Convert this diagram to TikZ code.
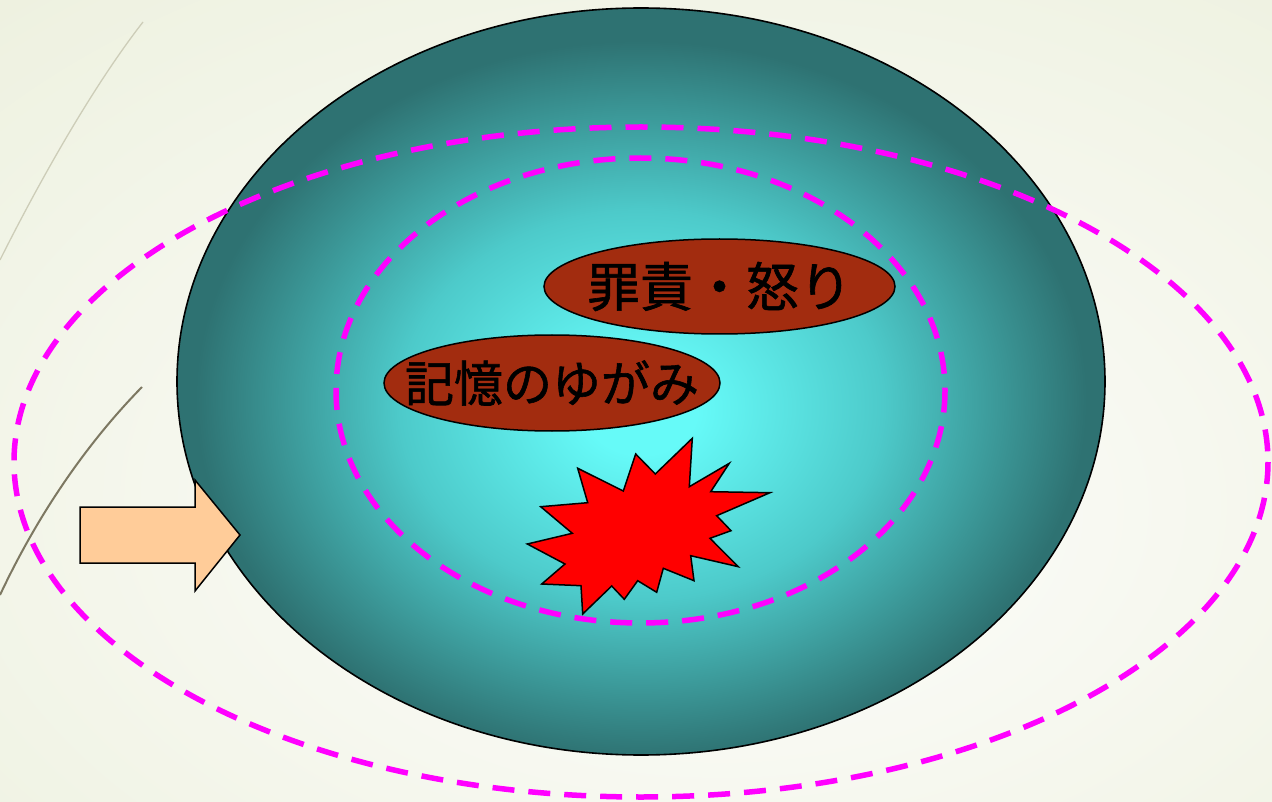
\documentclass[tikz,border=0pt]{standalone}
\usepackage{fontspec}
\newfontfamily\cjk[FakeBold=1.2]{Noto Sans CJK JP}
\usetikzlibrary{shapes.geometric}
\definecolor{bgin}{HTML}{F9FAF4}
\definecolor{bgout}{HTML}{E6EBD2}
\definecolor{cyanc}{HTML}{66FAF8}
\definecolor{midc}{HTML}{4DCACA}
\definecolor{tealc}{HTML}{2E7272}
\definecolor{brownc}{HTML}{A22C0F}
\definecolor{magc}{HTML}{FF00FF}
\definecolor{arrowc}{HTML}{FFCC99}
\definecolor{lightline}{HTML}{CDCDB8}
\definecolor{darkline}{HTML}{7D7862}
\pgfdeclareradialshading{eyeshade}{\pgfpoint{0bp}{-2bp}}{color(0bp)=(cyanc); color(3bp)=(cyanc); color(13bp)=(midc); color(24bp)=(tealc); color(60bp)=(tealc)}
\pgfdeclareradialshading{bgshade}{\pgfpoint{4bp}{-8bp}}{color(0bp)=(bgin); color(12bp)=(bgin); color(60bp)=(bgout); color(100bp)=(bgout)}
\tikzset{
  bubble/.style={ellipse, draw=black, line width=1.5pt, fill=brownc, inner sep=0pt, text=black},
  ring/.style={draw=magc, line width=5.5pt, dash pattern=on 22pt off 14pt},
  outl/.style={draw=black, line width=1.5pt, line join=miter},
}
\begin{document}
\begin{tikzpicture}[x=1pt,y=-1pt]
\useasboundingbox (0,0) rectangle (1272,802);
\shade[shading=bgshade] (0,0) rectangle (1272,802);
% thin decorative lines
\draw[lightline, line width=1.3pt] (143,22) .. controls (90,90) and (35,190) .. (0,260);
\draw[darkline, line width=2pt] (142,387) .. controls (90,440) and (40,510) .. (0,595);
% big eye ellipse
\shade[shading=eyeshade, draw=black, line width=1.6pt] (641,381.5) ellipse [x radius=464, y radius=373.5];
\coordinate (eye) at (641,381.5);
% arrow
\draw[outl, fill=arrowc] (80,507) -- (195,507) -- (195,480) -- (240,535) -- (195,591) -- (195,563) -- (80,563) -- cycle;
% dashed rings
\draw[ring] (641,462) ellipse [x radius=627, y radius=335];
\draw[ring] (640.5,390.5) ellipse [x radius=304.5, y radius=232.5];
% explosion
\draw[outl, fill=red] (692.3,438.3) -- (689.3,486.7) -- (729.3,463.3) -- (710.7,491.7) -- (770,492.7) -- (716.7,515.7) -- (731,530.7) -- (710,538.3) -- (738.3,566.7) -- (690.7,555.7) -- (694,580.7) -- (663.3,568.3) -- (656.7,592.3) -- (637.7,580.7) -- (624.3,599.3) -- (611.7,586) -- (582.7,614) -- (581,585.7) -- (541.7,584) -- (565,564) -- (527.3,544) -- (572.3,533.3) -- (540.7,506.7) -- (587.7,502.7) -- (577.7,468.3) -- (623.3,491) -- (635.7,454) -- (655.3,474) -- cycle;
% bubbles
\node[bubble, minimum width=351pt, minimum height=95pt, font=\cjk\fontsize{53}{58}\selectfont] (guilt) at (719.5,286.5) {\makebox[0pt]{罪責・怒り}};
\node[bubble, minimum width=336pt, minimum height=96pt, font=\cjk\fontsize{49}{54}\selectfont] (memory) at (552,383) {\makebox[0pt]{記憶のゆがみ}};
\end{tikzpicture}
\end{document}
